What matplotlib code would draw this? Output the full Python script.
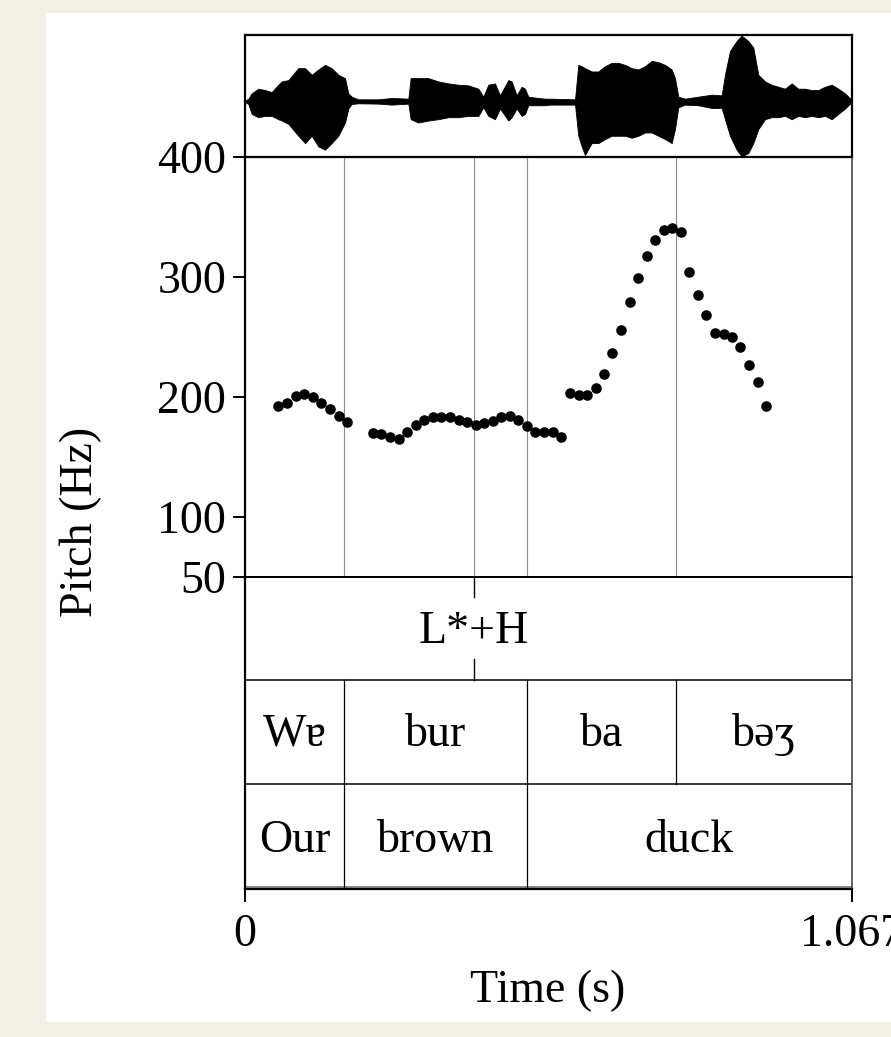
import matplotlib
matplotlib.use('Agg')
import matplotlib.pyplot as plt
from matplotlib.patches import Rectangle

plt.rcParams['font.family'] = ['Liberation Serif', 'DejaVu Serif']
plt.rcParams['font.size'] = 33

# ---------------- data ----------------
# Pitch track (time s, pitch Hz)
pitch_time = [0.0584, 0.0737, 0.0890, 0.1043, 0.1189, 0.1343, 0.1496, 0.1649, 0.1795,
              0.2247, 0.2393, 0.2546, 0.2699, 0.2852, 0.2998, 0.3144, 0.3297, 0.3450, 0.3603,
              0.3756, 0.3902, 0.4055, 0.4201, 0.4354, 0.4501, 0.4654, 0.4807, 0.4960, 0.5106,
              0.5259, 0.5412, 0.5558,
              0.5711, 0.5864, 0.6010, 0.6163, 0.6309, 0.6455, 0.6608, 0.6761, 0.6907, 0.7060,
              0.7206, 0.7359, 0.7512, 0.7665, 0.7812, 0.7965, 0.8111, 0.8264, 0.8417, 0.8563,
              0.8709, 0.8862, 0.9015, 0.9161]
pitch_hz = [192.9, 195.4, 200.5, 202.7, 199.6, 194.9, 189.9, 184.3, 179.5,
            169.8, 169.5, 166.5, 164.8, 171.2, 177.0, 180.9, 183.2, 183.2, 183.7,
            180.9, 179.0, 177.0, 178.2, 180.4, 183.2, 184.0, 180.9, 175.9, 170.9,
            171.2, 171.2, 166.5,
            203.2, 201.3, 201.8, 207.4, 219.4, 237.0, 256.2, 279.0, 299.1, 317.5,
            330.6, 339.2, 340.9, 337.8, 304.1, 284.6, 268.5, 253.7, 252.3, 249.8,
            241.4, 226.9, 212.2, 192.4]

# Waveform envelope (time s, upper / lower amplitude)
wave_t = [0.0, 0.0059, 0.0117, 0.0234, 0.0352, 0.0469, 0.0586, 0.0645, 0.0762, 0.0937,
          0.1055, 0.1172, 0.1289, 0.1406, 0.1523, 0.1641, 0.1758, 0.1816, 0.1875, 0.1992,
          0.2344, 0.2578, 0.2871, 0.2912, 0.3047, 0.3223, 0.3398, 0.3574, 0.3750, 0.3926,
          0.4102, 0.4189, 0.4277, 0.4394, 0.4482, 0.4629, 0.4687, 0.4775, 0.4863, 0.4922,
          0.4980, 0.5156, 0.5273, 0.5361, 0.5801, 0.5859, 0.5918, 0.5976, 0.6094, 0.6211,
          0.6328, 0.6445, 0.6562, 0.6680, 0.6797, 0.6914, 0.7031, 0.7148, 0.7265, 0.7383,
          0.7500, 0.7558, 0.7617, 0.7734, 0.7968, 0.8203, 0.8379, 0.8437, 0.8525, 0.8642,
          0.8730, 0.8847, 0.8935, 0.9023, 0.9140, 0.9258, 0.9374, 0.9492, 0.9610, 0.9726,
          0.9844, 0.9961, 1.0078, 1.0195, 1.0313, 1.0430, 1.0547, 1.0664]
wave_up = [0.01, 0.04, 0.12, 0.19, 0.17, 0.14, 0.25, 0.30, 0.32, 0.50,
           0.50, 0.40, 0.48, 0.55, 0.50, 0.40, 0.35, 0.12, 0.07, 0.03,
           0.03, 0.05, 0.04, 0.35, 0.35, 0.35, 0.30, 0.27, 0.25, 0.24,
           0.19, 0.07, 0.25, 0.27, 0.09, 0.32, 0.30, 0.09, 0.22, 0.19,
           0.07, 0.05, 0.04, 0.04, 0.03, 0.55, 0.53, 0.50, 0.45, 0.45,
           0.53, 0.58, 0.58, 0.55, 0.50, 0.48, 0.53, 0.61, 0.59, 0.55,
           0.48, 0.35, 0.07, 0.04, 0.07, 0.10, 0.09, 0.40, 0.76, 0.91,
           0.99, 0.91, 0.81, 0.40, 0.30, 0.25, 0.22, 0.19, 0.27, 0.19,
           0.19, 0.17, 0.17, 0.22, 0.25, 0.19, 0.12, 0.02]
wave_lo = [-0.01, -0.04, -0.19, -0.24, -0.22, -0.22, -0.27, -0.29, -0.34, -0.52,
           -0.63, -0.52, -0.68, -0.73, -0.63, -0.52, -0.32, -0.11, -0.04, -0.03,
           -0.035, -0.05, -0.035, -0.27, -0.32, -0.29, -0.27, -0.24, -0.24, -0.22,
           -0.22, -0.09, -0.22, -0.27, -0.11, -0.29, -0.24, -0.11, -0.22, -0.19,
           -0.06, -0.06, -0.06, -0.05, -0.05, -0.52, -0.68, -0.81, -0.63, -0.63,
           -0.57, -0.52, -0.52, -0.52, -0.55, -0.52, -0.47, -0.47, -0.52, -0.57,
           -0.63, -0.42, -0.09, -0.05, -0.06, -0.10, -0.10, -0.27, -0.52, -0.73,
           -0.83, -0.78, -0.63, -0.42, -0.27, -0.24, -0.24, -0.22, -0.27, -0.22,
           -0.24, -0.22, -0.24, -0.22, -0.27, -0.19, -0.11, -0.01]

total_dur = 1.067
pitch_ticks = [50, 100, 200, 300, 400]
x_ticks = [0, 1.067]
x_tick_labels = ['0', '1.067']

tone_time = 0.4026
tone_label = 'L*+H'
syll_bounds = [0, 0.174, 0.4957, 0.7576, 1.067]
syllables = ['Wɐ', 'bur', 'ba', 'bəʒ']
word_bounds = [0, 0.174, 0.4957, 1.067]
words = ['Our', 'brown', 'duck']
all_bounds = [0.174, 0.4026, 0.4957, 0.7576]

# ---------------- figure ----------------
W, H = 891, 1037
fig = plt.figure(figsize=(W / 100, H / 100), dpi=100, facecolor='#f2efe7')


def fx(px):
    return px / W


def fy(py):
    return 1 - py / H


fig.patches.append(Rectangle((fx(46), fy(1022)), fx(891) - fx(46), (1022 - 13) / H,
                             transform=fig.transFigure, facecolor='white',
                             edgecolor='none', zorder=-10))

L, R = 245, 852
aw = (R - L) / W

# waveform panel
ax_w = fig.add_axes([fx(L), fy(157), aw, (157 - 35) / H])
ax_w.patch.set_alpha(0)
ax_w.fill_between(wave_t, wave_lo, wave_up, color='black', lw=0.6)
ax_w.axhline(0, color='black', lw=0.8)
ax_w.set_xlim(0, total_dur)
ax_w.set_ylim(-0.84, 1.0)
ax_w.set_xticks([])
ax_w.set_yticks([])
for s in ax_w.spines.values():
    s.set_linewidth(1.6)

# pitch panel
ax_p = fig.add_axes([fx(L), fy(577), aw, (577 - 157) / H])
ax_p.patch.set_alpha(0)
for b in all_bounds:
    ax_p.axvline(b, color='#8a8a8a', lw=0.8, zorder=1)
ax_p.scatter(pitch_time, pitch_hz, s=58, color='black', zorder=3, linewidths=0)
ax_p.set_xlim(0, total_dur)
ax_p.set_ylim(50, 400)
ax_p.set_xticks([])
ax_p.set_yticks(pitch_ticks)
ax_p.set_yticklabels([str(v) for v in pitch_ticks])
ax_p.tick_params(axis='y', direction='out', length=8.5, width=1.4, pad=5)
for k, s in ax_p.spines.items():
    s.set_linewidth(1.6 if k == 'left' else 1.3)
ax_p.spines['right'].set_color('#555555')

# tiers panel
ax_t = fig.add_axes([fx(L), fy(889), aw, (889 - 577) / H])
ax_t.patch.set_alpha(0)
ax_t.set_xlim(0, total_dur)
ax_t.set_ylim(-0.015, 3)
for yv in [0, 1, 2]:
    ax_t.axhline(yv, color='black' if yv else '#666666', lw=1.1)
# tone tier
ax_t.plot([tone_time, tone_time], [3, 2.81], color='black', lw=1.0)
ax_t.plot([tone_time, tone_time], [2.21, 2.0], color='black', lw=1.0)
ax_t.text(tone_time, 2.362, tone_label, ha='center', va='baseline')
# syllable tier
for b in syll_bounds[1:-1]:
    ax_t.plot([b, b], [1, 2], color='black', lw=0.9)
for i, lab in enumerate(syllables):
    ax_t.text((syll_bounds[i] + syll_bounds[i + 1]) / 2, 1.367, lab,
              ha='center', va='baseline')
# word tier
for b in word_bounds[1:-1]:
    ax_t.plot([b, b], [0, 1], color='black', lw=0.9)
for i, lab in enumerate(words):
    ax_t.text((word_bounds[i] + word_bounds[i + 1]) / 2, 0.346, lab,
              ha='center', va='baseline')
ax_t.set_yticks([])
ax_t.set_xticks(x_ticks)
ax_t.set_xticklabels(x_tick_labels)
ax_t.tick_params(axis='x', direction='out', length=9.5, width=1.4, pad=8)
for k, s in ax_t.spines.items():
    s.set_linewidth(1.6 if k in ('left', 'bottom') else 1.3)
ax_t.spines['right'].set_color('#555555')

fig.text(fx(548), fy(991), 'Time (s)', ha='center', va='center')
fig.text(fx(81), fy(522), 'Pitch (Hz)', ha='center', va='center', rotation=90)

fig.savefig('out.png', dpi=100, facecolor=fig.get_facecolor())
